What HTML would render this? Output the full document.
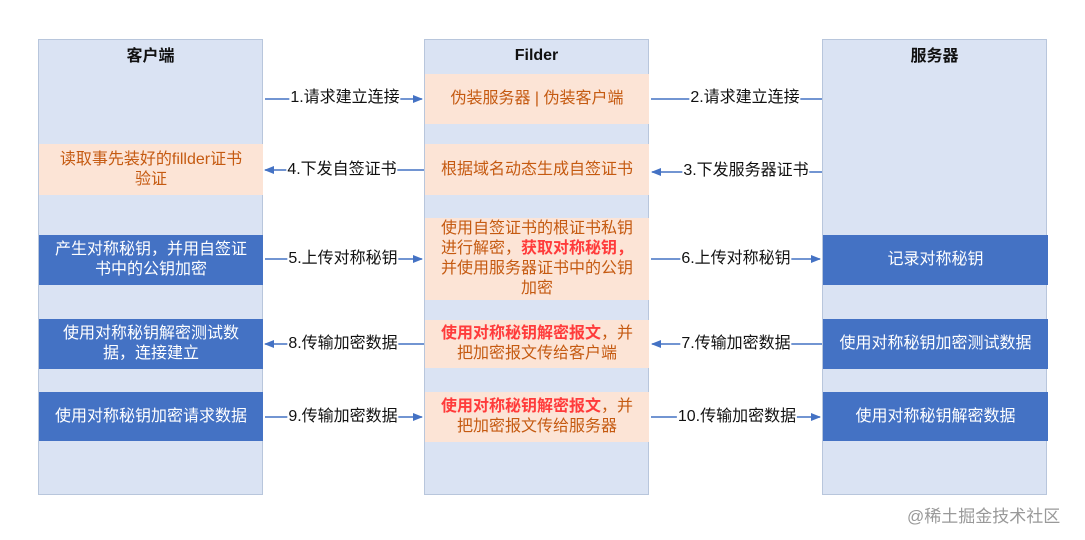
<!DOCTYPE html>
<html><head><meta charset="utf-8"><style>
body{margin:0;width:1085px;height:540px;background:#fff;position:relative;overflow:hidden;font-family:"Liberation Sans","Noto Sans CJK SC",sans-serif}
.col{position:absolute;top:39px;height:456px;width:225px;background:#dae3f3;border:1px solid #b8c6dc;box-sizing:border-box}
.h{position:absolute;top:46px;width:225px;text-align:center;font-weight:bold;font-size:16px;line-height:22px;color:#111}
.b{position:absolute;display:flex;align-items:center;justify-content:center;text-align:center;font-size:16px;line-height:20px;box-sizing:border-box;padding:0 4px}
.p{background:#fce4d6;color:#c55a11}
.d{background:#4472c4;color:#fff}
.r{color:#ff3b3b;font-weight:bold}
.l{position:absolute;font-size:16px;color:#111;background:#fff;padding:0 1px;line-height:18px;transform:translate(-50%,-50%);white-space:nowrap}
</style></head><body>
<div class="col" style="left:38px"></div>
<div class="col" style="left:424px"></div>
<div class="col" style="left:822px"></div>
<div class="h" style="left:38px">客户端</div>
<div class="h" style="left:424px;top:45px">Filder</div>
<div class="h" style="left:822px">服务器</div>

<div class="b p" style="left:425px;top:74px;width:224px;height:50px">伪装服务器 | 伪装客户端</div>
<div class="b p" style="left:39px;top:144px;width:224px;height:51px">读取事先装好的fillder证书<br>验证</div>
<div class="b p" style="left:425px;top:144px;width:224px;height:51px">根据域名动态生成自签证书</div>
<div class="b d" style="left:39px;top:235px;width:224px;height:50px">产生对称秘钥，并用自签证<br>书中的公钥加密</div>
<div class="b p" style="left:425px;top:218px;width:224px;height:82px"><span>使用自签证书的根证书私钥<br>进行解密，<span class="r">获取对称秘钥，</span><br>并使用服务器证书中的公钥<br>加密</span></div>
<div class="b d" style="left:823px;top:235px;width:225px;height:50px">记录对称秘钥</div>
<div class="b d" style="left:39px;top:319px;width:224px;height:50px">使用对称秘钥解密测试数<br>据，连接建立</div>
<div class="b p" style="left:425px;top:320px;width:224px;height:48px"><span><span class="r">使用对称秘钥解密报文</span>，并<br>把加密报文传给客户端</span></div>
<div class="b d" style="left:823px;top:319px;width:225px;height:50px">使用对称秘钥加密测试数据</div>
<div class="b d" style="left:39px;top:392px;width:224px;height:49px">使用对称秘钥加密请求数据</div>
<div class="b p" style="left:425px;top:392px;width:224px;height:50px"><span><span class="r">使用对称秘钥解密报文</span>，并<br>把加密报文传给服务器</span></div>
<div class="b d" style="left:823px;top:392px;width:225px;height:49px">使用对称秘钥解密数据</div>

<svg width="1085" height="540" style="position:absolute;left:0;top:0">
<defs><marker id="a" markerWidth="10" markerHeight="8" refX="9" refY="4" orient="auto" markerUnits="userSpaceOnUse"><path d="M0,0L10,4L0,8z" fill="#4472c4"/></marker></defs>
<g stroke="#4472c4" stroke-width="1.5" fill="none">
<line x1="265" y1="99" x2="422" y2="99" marker-end="url(#a)"/>
<line x1="651" y1="99" x2="822" y2="99"/>
<line x1="424" y1="170" x2="265" y2="170" marker-end="url(#a)"/>
<line x1="822" y1="172" x2="652" y2="172" marker-end="url(#a)"/>
<line x1="265" y1="259" x2="422" y2="259" marker-end="url(#a)"/>
<line x1="651" y1="259" x2="820" y2="259" marker-end="url(#a)"/>
<line x1="424" y1="344" x2="265" y2="344" marker-end="url(#a)"/>
<line x1="822" y1="344" x2="652" y2="344" marker-end="url(#a)"/>
<line x1="265" y1="417" x2="422" y2="417" marker-end="url(#a)"/>
<line x1="651" y1="417" x2="820" y2="417" marker-end="url(#a)"/>
</g></svg>
<div class="l" style="left:345px;top:98px">1.请求建立连接</div>
<div class="l" style="left:745px;top:98px">2.请求建立连接</div>
<div class="l" style="left:342px;top:170px">4.下发自签证书</div>
<div class="l" style="left:746px;top:171px">3.下发服务器证书</div>
<div class="l" style="left:343px;top:259px">5.上传对称秘钥</div>
<div class="l" style="left:736px;top:259px">6.上传对称秘钥</div>
<div class="l" style="left:343px;top:344px">8.传输加密数据</div>
<div class="l" style="left:736px;top:344px">7.传输加密数据</div>
<div class="l" style="left:343px;top:417px">9.传输加密数据</div>
<div class="l" style="left:737px;top:417px">10.传输加密数据</div>
<div style="position:absolute;left:907px;top:502px;font-size:17px;color:#999">@稀土掘金技术社区</div>
</body></html>
